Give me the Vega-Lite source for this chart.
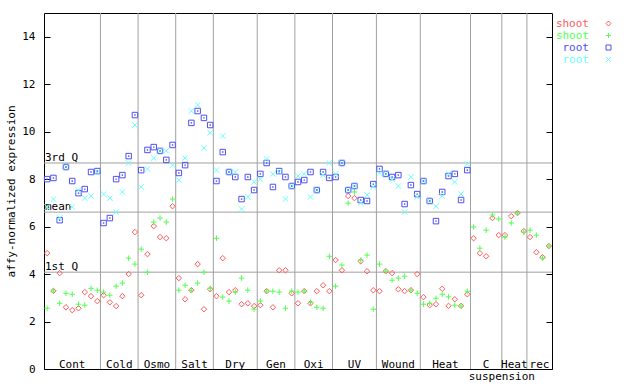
{
  "$schema": "https://vega.github.io/schema/vega-lite/v6.json",
  "width": 508,
  "height": 356,
  "autosize": {"type": "none"},
  "padding": {"left": 44, "top": 13, "right": 88, "bottom": 15},
  "background": "white",
  "config": {
    "view": {"stroke": "black", "strokeWidth": 1},
    "font": "DejaVu Sans Mono"
  },
  "datasets": {
    "groups": [
      {"label": "Cont", "mid": 4, "end": 8.5},
      {"label": "Cold", "mid": 11.5, "end": 14.5},
      {"label": "Osmo", "mid": 17.5, "end": 20.5},
      {"label": "Salt", "mid": 23.5, "end": 26.5},
      {"label": "Dry", "mid": 30, "end": 33.5},
      {"label": "Gen", "mid": 36.5, "end": 39.5},
      {"label": "Oxi", "mid": 42.5, "end": 45.5},
      {"label": "UV", "mid": 49, "end": 52.5},
      {"label": "Wound", "mid": 56, "end": 59.5},
      {"label": "Heat", "mid": 63.5, "end": 67.5},
      {"label": "C", "mid": 70, "end": 72.5},
      {"label": "Heat", "mid": 74.5, "end": 76.5},
      {"label": "rec", "mid": 78.5, "end": null}
    ],
    "stats": [
      {"name": "1st Q", "v": 4.08},
      {"name": "mean", "v": 6.61},
      {"name": "3rd Q", "v": 8.68}
    ],
    "expr": [
      {"i": 0, "shoot1": 4.88, "shoot2": 2.56, "root1": 8.00, "root2": 6.82},
      {"i": 1, "shoot1": 3.29, "shoot2": 3.29, "root1": 8.05, "root2": 7.16},
      {"i": 2, "shoot1": 4.04, "shoot2": 2.77, "root1": 6.27, "root2": 6.36},
      {"i": 3, "shoot1": 2.60, "shoot2": 3.19, "root1": 8.51, "root2": 8.51},
      {"i": 4, "shoot1": 2.48, "shoot2": 3.15, "root1": 7.92, "root2": 6.82},
      {"i": 5, "shoot1": 2.56, "shoot2": 2.73, "root1": 7.41, "root2": 7.54},
      {"i": 6, "shoot1": 3.24, "shoot2": 2.69, "root1": 7.58, "root2": 7.20},
      {"i": 7, "shoot1": 3.07, "shoot2": 3.40, "root1": 8.30, "root2": 7.29},
      {"i": 8, "shoot1": 2.86, "shoot2": 3.32, "root1": 8.34, "root2": 8.30},
      {"i": 9, "shoot1": 3.11, "shoot2": 3.24, "root1": 6.15, "root2": 7.37},
      {"i": 10, "shoot1": 2.81, "shoot2": 3.11, "root1": 6.36, "root2": 7.20},
      {"i": 11, "shoot1": 2.65, "shoot2": 3.49, "root1": 8.00, "root2": 6.61},
      {"i": 12, "shoot1": 3.07, "shoot2": 3.62, "root1": 8.17, "root2": 7.46},
      {"i": 13, "shoot1": 4.00, "shoot2": 4.67, "root1": 8.97, "root2": 8.68},
      {"i": 14, "shoot1": 5.77, "shoot2": 4.42, "root1": 10.70, "root2": 10.28},
      {"i": 15, "shoot1": 3.11, "shoot2": 5.05, "root1": 8.38, "root2": 7.67},
      {"i": 16, "shoot1": 4.84, "shoot2": 4.08, "root1": 9.23, "root2": 8.43},
      {"i": 17, "shoot1": 6.02, "shoot2": 6.19, "root1": 9.35, "root2": 8.89},
      {"i": 18, "shoot1": 5.56, "shoot2": 6.36, "root1": 9.19, "root2": 9.19},
      {"i": 19, "shoot1": 5.51, "shoot2": 6.19, "root1": 8.81, "root2": 9.19},
      {"i": 20, "shoot1": 6.86, "shoot2": 7.16, "root1": 9.44, "root2": 8.59},
      {"i": 21, "shoot1": 3.83, "shoot2": 3.32, "root1": 8.26, "root2": 7.96},
      {"i": 22, "shoot1": 2.94, "shoot2": 3.53, "root1": 8.59, "root2": 8.89},
      {"i": 23, "shoot1": 3.32, "shoot2": 3.32, "root1": 10.37, "root2": 10.87},
      {"i": 24, "shoot1": 4.42, "shoot2": 3.62, "root1": 10.87, "root2": 11.13},
      {"i": 25, "shoot1": 2.52, "shoot2": 4.08, "root1": 10.58, "root2": 9.31},
      {"i": 26, "shoot1": 3.36, "shoot2": 3.40, "root1": 10.28, "root2": 9.95},
      {"i": 27, "shoot1": 3.07, "shoot2": 5.51, "root1": 7.92, "root2": 8.38},
      {"i": 28, "shoot1": 4.67, "shoot2": 3.03, "root1": 9.14, "root2": 9.82},
      {"i": 29, "shoot1": 3.24, "shoot2": 2.86, "root1": 8.30, "root2": 8.30},
      {"i": 30, "shoot1": 3.32, "shoot2": 3.24, "root1": 8.09, "root2": 8.30},
      {"i": 31, "shoot1": 2.73, "shoot2": 3.83, "root1": 7.16, "root2": 6.74},
      {"i": 32, "shoot1": 2.77, "shoot2": 3.32, "root1": 8.09, "root2": 7.25},
      {"i": 33, "shoot1": 2.65, "shoot2": 2.52, "root1": 7.54, "root2": 7.88},
      {"i": 34, "shoot1": 2.69, "shoot2": 2.86, "root1": 8.22, "root2": 8.00},
      {"i": 35, "shoot1": 3.28, "shoot2": 3.28, "root1": 8.68, "root2": 8.85},
      {"i": 36, "shoot1": 2.60, "shoot2": 3.28, "root1": 7.67, "root2": 8.22},
      {"i": 37, "shoot1": 4.16, "shoot2": 3.24, "root1": 8.34, "root2": 8.30},
      {"i": 38, "shoot1": 4.16, "shoot2": 2.56, "root1": 8.09, "root2": 7.16},
      {"i": 39, "shoot1": 3.19, "shoot2": 3.28, "root1": 7.71, "root2": 7.71},
      {"i": 40, "shoot1": 2.77, "shoot2": 3.24, "root1": 7.88, "root2": 8.13},
      {"i": 41, "shoot1": 3.28, "shoot2": 3.28, "root1": 7.96, "root2": 8.22},
      {"i": 42, "shoot1": 2.77, "shoot2": 2.81, "root1": 8.30, "root2": 7.25},
      {"i": 43, "shoot1": 3.28, "shoot2": 2.60, "root1": 7.54, "root2": 7.54},
      {"i": 44, "shoot1": 3.53, "shoot2": 2.56, "root1": 8.30, "root2": 8.17},
      {"i": 45, "shoot1": 3.28, "shoot2": 4.75, "root1": 8.05, "root2": 8.68},
      {"i": 46, "shoot1": 4.59, "shoot2": 3.49, "root1": 8.09, "root2": 8.22},
      {"i": 47, "shoot1": 4.16, "shoot2": 4.38, "root1": 8.68, "root2": 8.68},
      {"i": 48, "shoot1": 7.29, "shoot2": 6.99, "root1": 7.54, "root2": 7.54},
      {"i": 49, "shoot1": 7.20, "shoot2": 7.46, "root1": 7.71, "root2": 7.71},
      {"i": 50, "shoot1": 4.54, "shoot2": 4.59, "root1": 7.12, "root2": 6.99},
      {"i": 51, "shoot1": 4.12, "shoot2": 4.80, "root1": 7.08, "root2": 7.33},
      {"i": 52, "shoot1": 3.32, "shoot2": 2.52, "root1": 7.79, "root2": 7.67},
      {"i": 53, "shoot1": 3.28, "shoot2": 4.42, "root1": 8.43, "root2": 8.26},
      {"i": 54, "shoot1": 4.12, "shoot2": 4.12, "root1": 8.22, "root2": 8.22},
      {"i": 55, "shoot1": 4.04, "shoot2": 3.74, "root1": 8.09, "root2": 8.00},
      {"i": 56, "shoot1": 3.36, "shoot2": 3.83, "root1": 8.17, "root2": 7.71},
      {"i": 57, "shoot1": 3.28, "shoot2": 3.91, "root1": 6.95, "root2": 6.61},
      {"i": 58, "shoot1": 3.32, "shoot2": 3.32, "root1": 7.75, "root2": 8.09},
      {"i": 59, "shoot1": 4.00, "shoot2": 3.19, "root1": 7.37, "root2": 7.25},
      {"i": 60, "shoot1": 3.03, "shoot2": 2.73, "root1": 7.92, "root2": 7.92},
      {"i": 61, "shoot1": 2.69, "shoot2": 2.77, "root1": 7.08, "root2": 7.08},
      {"i": 62, "shoot1": 2.73, "shoot2": 2.98, "root1": 6.23, "root2": 6.86},
      {"i": 63, "shoot1": 3.38, "shoot2": 3.15, "root1": 7.46, "root2": 7.29},
      {"i": 64, "shoot1": 2.66, "shoot2": 3.04, "root1": 8.13, "root2": 8.22},
      {"i": 65, "shoot1": 2.94, "shoot2": 2.69, "root1": 8.22, "root2": 7.88},
      {"i": 66, "shoot1": 2.66, "shoot2": 2.65, "root1": 7.12, "root2": 7.37},
      {"i": 67, "shoot1": 3.15, "shoot2": 3.28, "root1": 8.38, "root2": 8.64},
      {"i": 68, "shoot1": 5.51, "shoot2": 5.98},
      {"i": 69, "shoot1": 4.88, "shoot2": 5.09},
      {"i": 70, "shoot1": 4.75, "shoot2": 5.85},
      {"i": 71, "shoot1": 6.36, "shoot2": 6.49},
      {"i": 72, "shoot1": 5.64, "shoot2": 6.32},
      {"i": 73, "shoot1": 5.64, "shoot2": 5.56},
      {"i": 74, "shoot1": 6.44, "shoot2": 6.15},
      {"i": 75, "shoot1": 6.57, "shoot2": 6.57},
      {"i": 76, "shoot1": 5.81, "shoot2": 5.77},
      {"i": 77, "shoot1": 5.56, "shoot2": 5.85},
      {"i": 78, "shoot1": 4.92, "shoot2": 5.64},
      {"i": 79, "shoot1": 4.71, "shoot2": 4.67},
      {"i": 80, "shoot1": 5.18, "shoot2": 5.18}
    ]
  },
  "layer": [
    {
      "data": {"name": "groups"},
      "mark": {"type": "rule", "color": "#a0a0a0", "strokeWidth": 1},
      "encoding": {
        "x": {"field": "end", "type": "quantitative", "scale": {"domain": [-0.5, 80.5], "nice": false, "zero": false}, "axis": null}
      }
    },
    {
      "data": {"name": "stats"},
      "mark": {"type": "rule", "color": "#a0a0a0", "strokeWidth": 1},
      "encoding": {
        "y": {
          "field": "v", "type": "quantitative",
          "scale": {"domain": [0, 15], "nice": false, "zero": true},
          "axis": {
            "orient": "left", "values": [0, 2, 4, 6, 8, 10, 12, 14],
            "tickSize": -6, "tickColor": "black", "tickWidth": 1,
            "domain": false, "grid": false,
            "labelFont": "DejaVu Sans Mono", "labelFontSize": 11, "labelColor": "black", "labelPadding": 15,
            "title": "affy-normalized expression", "titleFont": "DejaVu Sans Mono", "titleFontSize": 11,
            "titleFontWeight": "normal", "titleColor": "black", "titlePadding": 5
          }
        }
      }
    },
    {
      "data": {"name": "stats"},
      "mark": {"type": "text", "align": "left", "baseline": "alphabetic", "dx": 1, "dy": -2, "fontSize": 11, "font": "DejaVu Sans Mono", "color": "black"},
      "encoding": {
        "x": {"datum": -0.5, "type": "quantitative", "axis": null},
        "y": {
          "field": "v", "type": "quantitative",
          "axis": {
            "orient": "right", "values": [0, 2, 4, 6, 8, 10, 12, 14],
            "tickSize": -6, "tickColor": "black", "tickWidth": 1,
            "labels": false, "domain": false, "grid": false, "title": null
          }
        },
        "text": {"field": "name"}
      }
    },
    {
      "data": {"name": "groups"},
      "mark": {"type": "text", "align": "center", "baseline": "alphabetic", "dy": -1, "fontSize": 11, "font": "DejaVu Sans Mono", "color": "black"},
      "encoding": {
        "x": {"field": "mid", "type": "quantitative", "axis": null},
        "y": {"datum": 0, "type": "quantitative", "axis": null},
        "text": {"field": "label"}
      }
    },
    {
      "data": {"values": [{"label": "suspension", "mid": 72.5}]},
      "mark": {"type": "text", "align": "center", "baseline": "alphabetic", "dy": 11, "fontSize": 11, "font": "DejaVu Sans Mono", "color": "black"},
      "encoding": {
        "x": {"field": "mid", "type": "quantitative", "axis": null},
        "y": {"datum": 0, "type": "quantitative", "axis": null},
        "text": {"field": "label"}
      }
    },
    {
      "data": {"name": "expr"},
      "transform": [{"fold": ["shoot1", "shoot2", "root1", "root2"], "as": ["series", "value"]}],
      "mark": {"type": "point", "filled": false, "size": 30, "strokeWidth": 1, "opacity": 1},
      "encoding": {
        "x": {"field": "i", "type": "quantitative", "axis": null},
        "y": {"field": "value", "type": "quantitative", "axis": null},
        "color": {
          "field": "series", "type": "nominal",
          "scale": {"domain": ["shoot1", "shoot2", "root1", "root2"], "range": ["#ff5a5a", "#50ff50", "#5050ee", "#66ffff"]},
          "legend": {
            "orient": "none", "legendX": 559, "legendY": 5, "title": null, "padding": 0, "rowPadding": 0,
            "labelAlign": "right", "labelOffset": -25, "labelFont": "DejaVu Sans Mono", "labelFontSize": 11,
            "labelExpr": "substring(datum.label, 0, length(datum.label) - 1)",
            "labelColor": {"expr": "scale('color', datum.value)"},
            "symbolStrokeWidth": 1, "symbolSize": 25
          }
        },
        "shape": {
          "field": "series", "type": "nominal",
          "scale": {"domain": ["shoot1", "shoot2", "root1", "root2"], "range": ["diamond", "M-1,0L1,0M0,-1L0,1", "square", "M-1,-1L1,1M-1,1L1,-1"]},
          "legend": {
            "orient": "none", "legendX": 559, "legendY": 5, "title": null, "padding": 0, "rowPadding": 0,
            "labelAlign": "right", "labelOffset": -25, "labelFont": "DejaVu Sans Mono", "labelFontSize": 11,
            "labelExpr": "substring(datum.label, 0, length(datum.label) - 1)",
            "labelColor": {"expr": "scale('color', datum.value)"},
            "symbolStrokeWidth": 1, "symbolSize": 25
          }
        }
      }
    },
    {
      "data": {"name": "expr"},
      "mark": {"type": "square", "filled": true, "size": 2, "color": "#5050ee", "opacity": 1},
      "encoding": {
        "x": {"field": "i", "type": "quantitative", "axis": null},
        "y": {"field": "root1", "type": "quantitative", "axis": null}
      }
    }
  ]
}
